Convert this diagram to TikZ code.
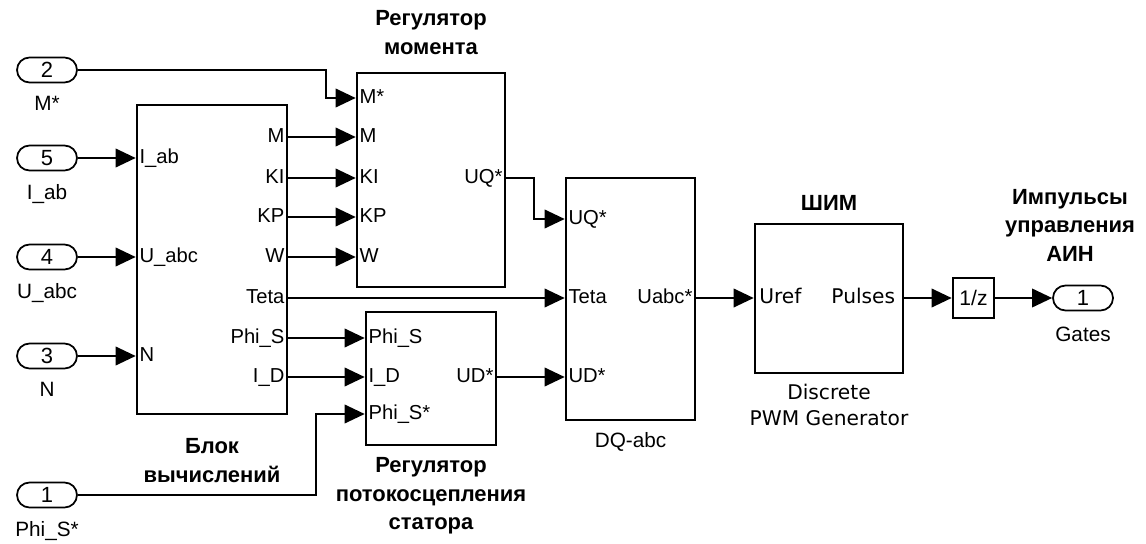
\documentclass[tikz,border=0pt]{standalone}
\usepackage{fontspec}
\setmainfont{Liberation Sans}
\newfontfamily\pwmfont{DejaVu Sans}
\usetikzlibrary{arrows.meta,positioning}

\begin{document}
\begin{tikzpicture}[
  x=0.02cm, y=-0.02cm,
  blockbox/.style={draw, line width=1.5pt, inner sep=0pt},
  portbox/.style={draw, line width=1pt, rounded corners=0.25cm,
    minimum width=1.2cm, minimum height=0.5cm, inner sep=0pt,
    font=\fontsize{12.5}{14}\selectfont},
  portname/.style={inner sep=0pt, font=\fontsize{11.8}{13}\selectfont},
  inlabel/.style={anchor=west, inner sep=2pt, text height=8.5pt, text depth=2.5pt,
    font=\fontsize{11.5}{13}\selectfont},
  outlabel/.style={anchor=east, inner sep=2pt, text height=8.5pt, text depth=2.5pt,
    font=\fontsize{11.5}{13}\selectfont},
  pwmlabel/.style={inner sep=3pt, text height=8.5pt, text depth=2.5pt,
    font=\pwmfont\fontsize{11.5}{13}\selectfont},
  title/.style={inner sep=0pt, align=center, font=\bfseries\fontsize{12.5}{16.2}\selectfont},
  caption/.style={inner sep=0pt, align=center, font=\pwmfont\fontsize{11.5}{14.8}\selectfont},
  arrow/.style={-{Triangle[length=0.4cm,width=0.37cm]}, line width=1.1pt}
]
\useasboundingbox (0,0) rectangle (1146,544);

% blocks
\node[blockbox, minimum width=3cm, minimum height=6.18cm] (calc) at (212,259.5) {};
\node[blockbox, minimum width=2.96cm, minimum height=4.28cm] (torque) at (431,180) {};
\node[blockbox, minimum width=2.6cm, minimum height=2.66cm] (flux) at (431,378.5) {};
\node[blockbox, minimum width=2.58cm, minimum height=4.84cm] (dq) at (630.5,299) {};
\node[blockbox, minimum width=2.96cm, minimum height=2.98cm] (pwm) at (829,298.5) {};
\node[blockbox, minimum width=0.82cm, minimum height=0.8cm,
  font=\fontsize{12}{14}\selectfont] (delay) at (973.5,298) {1/z};

% in- and outports
\node[portbox] (inM) at (47,70) {2};
\node[portbox] (inI) at (47,158) {5};
\node[portbox] (inU) at (47,257) {4};
\node[portbox] (inN) at (47,356) {3};
\node[portbox] (inF) at (47,495) {1};
\node[portbox] (outG) at (1083,298) {1};
\node[portname, below=0.26cm of inM] (inMname) {M*};
\node[portname, below=0.26cm of inI] (inIname) {I\_ab};
\node[portname, below=0.26cm of inU] (inUname) {U\_abc};
\node[portname, below=0.26cm of inN] (inNname) {N};
\node[portname, below=0.26cm of inF] (inFname) {Phi\_S*};
\node[portname, below=0.3cm of outG] (outGname) {Gates};

% port labels inside the blocks
\foreach \nm/\txt/\yy in {Iab/I\_ab/158, Uabc/U\_abc/257, N/N/356}
  \node[inlabel] (calc-\nm) at (calc.west |- 0,\yy) {\txt};
\foreach \nm/\txt/\yy in {M/M/137, KI/KI/178, KP/KP/217, W/W/257,
    Teta/Teta/298, PhiS/Phi\_S/338, ID/I\_D/377}
  \node[outlabel] (calc-\nm) at (calc.east |- 0,\yy) {\txt};
\foreach \nm/\txt/\yy in {Ms/M*/98, M/M/137, KI/KI/178, KP/KP/217, W/W/257}
  \node[inlabel] (torque-\nm) at (torque.west |- 0,\yy) {\txt};
\node[outlabel] (torque-UQ) at (torque.east |- 0,178) {UQ*};
\foreach \nm/\txt/\yy in {PhiS/Phi\_S/338, ID/I\_D/377, PhiSs/Phi\_S*/414}
  \node[inlabel] (flux-\nm) at (flux.west |- 0,\yy) {\txt};
\node[outlabel] (flux-UD) at (flux.east |- 0,377) {UD*};
\foreach \nm/\txt/\yy in {UQ/UQ*/219, Teta/Teta/298, UD/UD*/377}
  \node[inlabel] (dq-\nm) at (dq.west |- 0,\yy) {\txt};
\node[outlabel] (dq-Uabc) at (dq.east |- 0,298) {Uabc*};
\node[pwmlabel, anchor=west] (pwm-Uref) at (pwm.west |- 0,298) {Uref};
\node[pwmlabel, anchor=east, inner xsep=5pt] (pwm-Puls) at (pwm.east |- 0,298) {Pulses};

% titles and captions
\node[title, above=0.34cm of torque] (torqueT) {Регулятор\\момента};
\node[title, below=0.46cm of calc] (calcT) {Блок\\вычислений};
\node[title, below=0.22cm of flux] (fluxT) {Регулятор\\потокосцепления\\статора};
\node[portname, below=0.22cm of dq] (dqT) {DQ-abc};
\node[title, above=0.24cm of pwm] (pwmT) {ШИМ};
\node[caption, below=0.18cm of pwm] (pwmC) {Discrete\\PWM Generator};
\node[title, above=0.46cm of outG, xshift=-0.26cm] (outT) {Импульсы\\управления\\АИН};

% signals
\draw[arrow] (inM.east) -- ++(248,0) |- (torque-Ms.west);
\draw[arrow] (inI) -- (calc-Iab);
\draw[arrow] (inU) -- (calc-Uabc);
\draw[arrow] (inN) -- (calc-N);
\draw[arrow] (calc-M) -- (torque-M);
\draw[arrow] (calc-KI) -- (torque-KI);
\draw[arrow] (calc-KP) -- (torque-KP);
\draw[arrow] (calc-W) -- (torque-W);
\draw[arrow] (calc-PhiS) -- (flux-PhiS);
\draw[arrow] (calc-ID) -- (flux-ID);
\draw[arrow] (inF.east) -- ++(238,0) |- (flux-PhiSs.west);
\draw[arrow] (torque-UQ.east) -- ++(28,0) |- (dq-UQ.west);
\draw[arrow] (calc-Teta) -- (dq-Teta);
\draw[arrow] (flux-UD) -- (dq-UD);
\draw[arrow] (dq-Uabc) -- (pwm-Uref);
\draw[arrow] (pwm-Puls) -- (delay);
\draw[arrow] (delay) -- (outG);
\end{tikzpicture}
\end{document}
